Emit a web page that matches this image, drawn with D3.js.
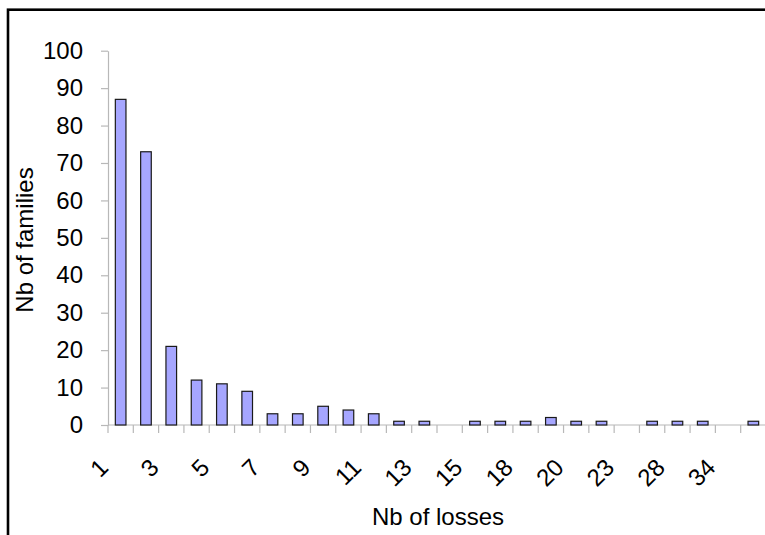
<!DOCTYPE html>
<html>
<head>
<meta charset="utf-8">
<script src="https://cdn.jsdelivr.net/npm/d3@7"></script>
<style>
  html, body { margin: 0; padding: 0; background: #fff; }
  svg { display: block; }
  text { font-family: "Liberation Sans", Arial, sans-serif; fill: #000; }
</style>
</head>
<body>
<svg id="chart" width="765" height="535"></svg>
<script>
// Categories (number of losses) and values (number of families)
const categories = ["1","2","3","4","5","6","7","8","9","10","11","12","13","14","15","16","18","19","20","21","23","25","28","30","34","40"];
const values     = [87, 73, 21, 12, 11, 9, 3, 3, 5, 4, 3, 1, 1, 0, 1, 1, 1, 2, 1, 1, 0, 1, 1, 1, 0, 1];
const yTicks     = [0, 10, 20, 30, 40, 50, 60, 70, 80, 90, 100];
const xTitle = "Nb of losses";
const yTitle = "Nb of families";

(function () {
const svg = d3.select("#chart");
const plotLeft = 108, plotRight = 766, plotTop = 50.7, plotBottom = 425;

// frame
svg.append("rect")
  .attr("x", 8).attr("y", 9.7)
  .attr("width", 800).attr("height", 600)
  .attr("fill", "none").attr("stroke", "#000").attr("stroke-width", 2.6);

const x = d3.scaleBand().domain(categories).range([plotLeft, plotRight]).padding(0);
const y = d3.scaleLinear().domain([0, 100]).range([plotBottom, plotTop]);

const axisColor = "#b8b8b8";

// Y axis
const yAxis = svg.append("g")
  .attr("transform", `translate(${plotLeft},0)`)
  .call(d3.axisLeft(y).tickValues(yTicks).tickSize(7).tickPadding(18).tickSizeOuter(0));
yAxis.select(".domain").attr("stroke", axisColor).attr("stroke-width", 1.2);
yAxis.selectAll(".tick line").attr("stroke", axisColor).attr("stroke-width", 1.2);
yAxis.selectAll(".tick text")
  .attr("font-size", 24)
  .attr("font-family", "Liberation Sans, Arial, sans-serif")
  .attr("fill", "#000");

// X axis baseline + boundary ticks
svg.append("line")
  .attr("x1", plotLeft).attr("x2", plotRight)
  .attr("y1", y(0)).attr("y2", y(0))
  .attr("stroke", axisColor).attr("stroke-width", 1.2);
const bounds = categories.map(c => x(c)).concat([x(categories[categories.length - 1]) + x.bandwidth()]);
svg.append("g").selectAll("line").data(bounds).join("line")
  .attr("x1", d => d).attr("x2", d => d)
  .attr("y1", y(0)).attr("y2", y(0) + 8)
  .attr("stroke", axisColor).attr("stroke-width", 1.2);

// Bars
const bw = x.bandwidth() * 0.42;
const barData = categories.map((c, i) => ({ cat: c, val: values[i] })).filter(d => d.val > 0);
svg.append("g").selectAll("rect").data(barData).join("rect")
  .attr("x", d => x(d.cat) + x.bandwidth() / 2 - bw / 2)
  .attr("y", d => y(d.val))
  .attr("width", bw)
  .attr("height", d => y(0) - y(d.val))
  .attr("fill", "#a6a6ff")
  .attr("stroke", "#1a1a1a")
  .attr("stroke-width", 1.2);

// X labels (every other category), rotated -45
svg.append("g").selectAll("text")
  .data(categories.filter((c, i) => i % 2 === 0))
  .join("text")
  .attr("transform", d => `translate(${x(d) + x.bandwidth() / 2 - 17},463) rotate(-45)`)
  .attr("text-anchor", "end")
  .attr("dy", "0.35em")
  .attr("font-size", 24)
  .text(d => d);

// Axis titles
svg.append("text")
  .attr("x", 438).attr("y", 525)
  .attr("text-anchor", "middle")
  .attr("font-size", 24)
  .text(xTitle);

svg.append("text")
  .attr("transform", "translate(33,240) rotate(-90)")
  .attr("text-anchor", "middle")
  .attr("font-size", 24)
  .text(yTitle);
})();
</script>
</body>
</html>
